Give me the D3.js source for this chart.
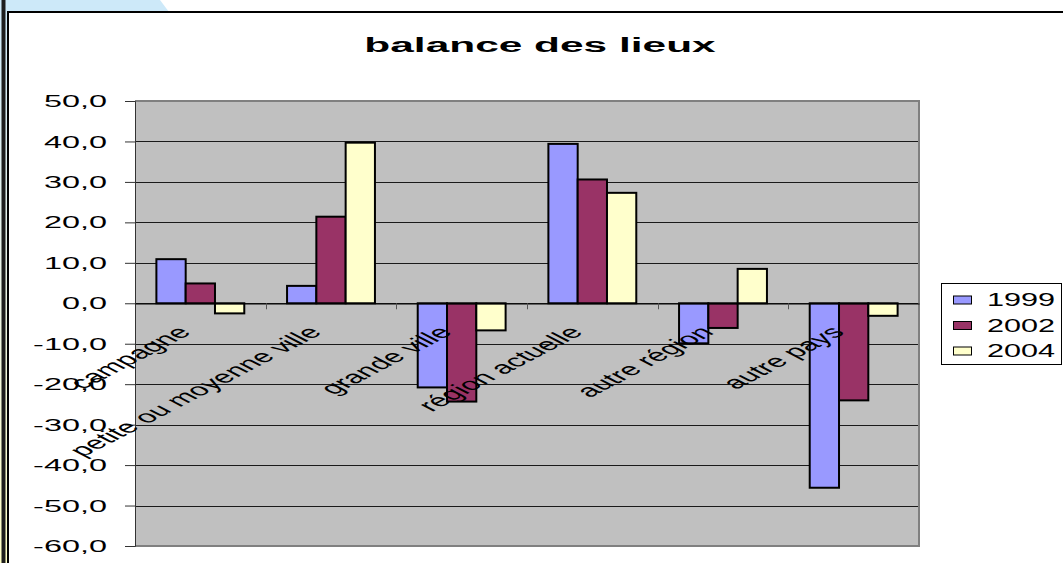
<!DOCTYPE html>
<html>
<head>
<meta charset="utf-8">
<script src="https://cdn.jsdelivr.net/npm/d3@7"></script>
<style>
  body { margin: 0; background: #fff; }
  svg { display: block; font-family: 'Liberation Sans', Arial, sans-serif; }
</style>
</head>
<body>
<div id="chart"></div>
<script>
// values
const categories = ['campagne', 'petite ou moyenne ville', 'grande ville', 'région actuelle', 'autre région', 'autre pays'];
const years = ['1999', '2002', '2004'];
const v1999 = [10.9, 4.3, -20.8, 39.4, -9.9, -45.6];
const v2002 = [4.9, 21.4, -24.3, 30.6, -6.1, -24.0];
const v2004 = [-2.5, 39.7, -6.7, 27.3, 8.5, -3.1];
const yTicks = [50, 40, 30, 20, 10, 0, -10, -20, -30, -40, -50, -60];
const colors = { '1999': '#9999ff', '2002': '#993366', '2004': '#ffffcc' };

const series = { '1999': v1999, '2002': v2002, '2004': v2004 };
const width = 1063, height = 563;
const plot = { left: 135, right: 919, top: 101, bottom: 546 };
const sx = 1.93; // the source picture is stretched sideways

const svg = d3.select('#chart').append('svg')
  .attr('width', width)
  .attr('height', height);

// page decoration at the left and top
const grad = svg.append('defs').append('linearGradient')
  .attr('id', 'strip').attr('x1', 0).attr('x2', 0).attr('y1', 0).attr('y2', 1);
grad.append('stop').attr('offset', '0%').attr('stop-color', '#cde9f9');
grad.append('stop').attr('offset', '45%').attr('stop-color', '#e6f2e8');
grad.append('stop').attr('offset', '100%').attr('stop-color', '#ffffc4');
svg.append('path')
  .attr('d', 'M0,0 L160,0 L169,12 L0,12 Z')
  .attr('fill', '#cde9f9');
svg.append('rect').attr('x', 0).attr('y', 0).attr('width', 8).attr('height', height).attr('fill', 'url(#strip)');
svg.append('rect').attr('x', 1.5).attr('y', 0).attr('width', 4).attr('height', height).attr('fill', '#1e1e1e');

// chart frame
svg.append('rect')
  .attr('x', 8).attr('y', 12)
  .attr('width', width + 10).attr('height', height)
  .attr('fill', '#fff')
  .attr('stroke', '#000')
  .attr('stroke-width', 2);

const x0 = d3.scaleBand()
  .domain(categories)
  .range([plot.left, plot.right])
  .paddingInner(0)
  .paddingOuter(0);

const x1 = d3.scaleBand()
  .domain(years)
  .range([0, x0.bandwidth()])
  .paddingInner(0)
  .paddingOuter(0.73);

const y = d3.scaleLinear()
  .domain([-60, 50])
  .range([plot.bottom, plot.top]);

const fmt = d3.formatLocale({ decimal: ',', thousands: ' ', grouping: [3], currency: ['', ''], minus: '-' }).format('.1f');

// plot area
svg.append('rect')
  .attr('x', plot.left).attr('y', plot.top)
  .attr('width', plot.right - plot.left).attr('height', plot.bottom - plot.top)
  .attr('fill', '#c0c0c0');

svg.append('g')
  .selectAll('line')
  .data(yTicks.filter(d => d !== 50 && d !== -60))
  .enter().append('line')
  .attr('x1', plot.left).attr('x2', plot.right)
  .attr('y1', d => Math.round(y(d)) + 0.5)
  .attr('y2', d => Math.round(y(d)) + 0.5)
  .attr('stroke', '#1a1a1a')
  .attr('stroke-width', 1);

// gray border top/right/bottom
svg.append('path')
  .attr('d', `M${plot.left},${plot.top} H${plot.right} V${plot.bottom} H${plot.left}`)
  .attr('fill', 'none')
  .attr('stroke', '#808080')
  .attr('stroke-width', 2);

// y axis
const yAxis = svg.append('g')
  .attr('transform', `translate(${plot.left},0)`)
  .call(d3.axisLeft(y).tickValues(yTicks).tickSize(10).tickFormat(''));
yAxis.select('.domain').attr('stroke', '#333');
yAxis.selectAll('.tick line').attr('stroke', '#333');

svg.append('g')
  .selectAll('text')
  .data(yTicks)
  .enter().append('text')
  .attr('transform', d => `translate(107,${y(d)}) scale(${sx},1)`)
  .attr('text-anchor', 'end')
  .attr('dy', '0.36em')
  .attr('font-size', 16.8)
  .attr('fill', '#000')
  .text(d => fmt(d));

// bars
const groups = svg.append('g')
  .selectAll('g')
  .data(categories)
  .enter().append('g')
  .attr('transform', d => `translate(${x0(d)},0)`);

groups.selectAll('rect')
  .data((c, i) => years.map(yr => ({ year: yr, value: series[yr][i] })))
  .enter().append('rect')
  .attr('x', d => x1(d.year))
  .attr('width', x1.bandwidth())
  .attr('y', d => y(Math.max(0, d.value)))
  .attr('height', d => Math.abs(y(d.value) - y(0)))
  .attr('fill', d => colors[d.year])
  .attr('stroke', '#000')
  .attr('stroke-width', 2);

// category axis on zero line
const xAxis = svg.append('g')
  .attr('transform', `translate(0,${Math.round(y(0)) + 0.5})`)
  .call(d3.axisBottom(x0).tickSize(0).tickFormat(''));
xAxis.select('.domain').attr('stroke', '#000');
svg.append('g')
  .selectAll('line')
  .data(categories.slice(1))
  .enter().append('line')
  .attr('x1', d => Math.round(x0(d)) + 0.5)
  .attr('x2', d => Math.round(x0(d)) + 0.5)
  .attr('y1', y(0))
  .attr('y2', y(0) + 6)
  .attr('stroke', '#555');

// rotated category labels
svg.append('g')
  .selectAll('text')
  .data(categories)
  .enter().append('text')
  .attr('transform', d => `translate(${x0(d) + x0.bandwidth() / 2 - 8},${y(0) + 30}) scale(${sx},1) rotate(-45)`)
  .attr('text-anchor', 'end')
  .attr('font-size', 17.2)
  .attr('fill', '#000')
  .text(d => d);

// title
svg.append('text')
  .attr('transform', `translate(540,52) scale(2.07,1)`)
  .attr('text-anchor', 'middle')
  .attr('font-size', 20.5)
  .attr('font-weight', 'bold')
  .text('balance des lieux');

// legend
const legend = svg.append('g');
legend.append('rect')
  .attr('x', 941.5).attr('y', 283.5)
  .attr('width', 120).attr('height', 81)
  .attr('fill', '#fff')
  .attr('stroke', '#000');
const items = legend.selectAll('g')
  .data(years)
  .enter().append('g')
  .attr('transform', (d, i) => `translate(0,${300 + i * 25.5})`);
items.append('rect')
  .attr('x', 953.5).attr('y', -4)
  .attr('width', 18).attr('height', 8)
  .attr('fill', d => colors[d])
  .attr('stroke', '#000');
items.append('text')
  .attr('transform', 'translate(987,0) scale(1.7,1)')
  .attr('dy', '0.36em')
  .attr('font-size', 18)
  .text(d => d);
</script>
</body>
</html>
